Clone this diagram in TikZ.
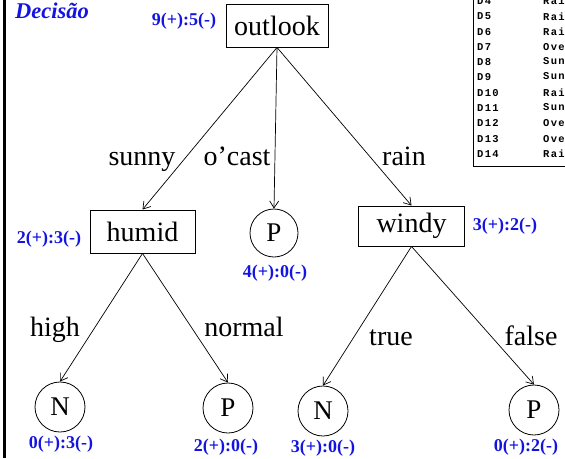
\documentclass[tikz,border=0pt]{standalone}
\usepackage{fontspec}
\setmainfont{Liberation Serif}
\newfontfamily\tabfont[LetterSpace=12]{Liberation Mono}
\usetikzlibrary{arrows.meta}
\definecolor{lblue}{RGB}{20,20,225}
\tikzset{
  treebox/.style={draw, line width=0.9pt, inner sep=0pt, font=\rmfamily\fontsize{28}{30}\selectfont},
  leaf/.style={draw, circle, line width=0.8pt, minimum size=50pt, inner sep=0pt, font=\rmfamily\fontsize{27}{30}\selectfont},
  count/.style={text=lblue, font=\rmfamily\fontsize{18}{20}\selectfont\bfseries, inner sep=0pt},
  edgelbl/.style={font=\rmfamily\fontsize{28}{30}\selectfont, inner sep=0pt, anchor=base},
  branch/.style={line width=0.7pt, -{Straight Barb[length=7pt,width=9pt]}},
  tabtxt/.style={font=\tabfont\bfseries\fontsize{10.5}{12}\selectfont, inner sep=0pt, anchor=west},
  tabline/.style={line width=0.8pt},
}
\begin{document}
\begin{tikzpicture}[x=1pt,y=-1pt]
\useasboundingbox (0,0) rectangle (565,458);
\fill[white] (0,0) rectangle (565,458);
% left border line
\draw[line width=2.5pt] (4.5,0) -- (4.5,458);
% title
\node[text=lblue, font=\rmfamily\fontsize{22.5}{24}\selectfont\bfseries\itshape, inner sep=0pt] (title) at (52,10.5) {Decisão};

% table (clipped)
\begin{scope}
\clip (0,0) rectangle (565,458);
\draw[tabline] (473,0) -- (473,166) -- (570,166);
\foreach \d/\w [count=\i from 0] in {D4/Rain,D5/Rain,D6/Rain,D7/Overcast,D8/Sunny,D9/Sunny,D10/Rain,D11/Sunny,D12/Overcast,D13/Overcast,D14/Rain}{
  \node[tabtxt] (td\i) at (477,1+15.3*\i) {\d};
  \node[tabtxt] (tw\i) at (543,1+15.3*\i) {\w};
}
\end{scope}

% tree nodes
\node[treebox, minimum width=102pt, minimum height=43pt] (outlook) at (277,25.5) {outlook};
\node[treebox, minimum width=105pt, minimum height=43pt] (humid) at (142.5,231.5) {humid};
\node[treebox, minimum width=106pt, minimum height=40pt] (windy) at (411.5,226) {windy};
\node[leaf, minimum size=48pt] (p0) at (274,233) {P};
\node[leaf] (n1) at (60,407) {N};
\node[leaf] (p1) at (228,408) {P};
\node[leaf] (n2) at (323,411) {N};
\node[leaf] (p2) at (534,410) {P};

% counts
\node[count] (c0) at (184,21) {9(+):5(-)};
\node[count] (c1) at (49,239) {2(+):3(-)};
\node[count] (c2) at (275,273) {4(+):0(-)};
\node[count] (c3) at (505,226) {3(+):2(-)};
\node[count] (c4) at (61,444) {0(+):3(-)};
\node[count] (c5) at (226,447) {2(+):0(-)};
\node[count] (c6) at (323,448) {3(+):0(-)};
\node[count] (c7) at (526,447) {0(+):2(-)};

% branches
\draw[branch] (outlook.south) -- (humid.north);
\draw[branch] (outlook.south) -- (p0.north);
\draw[branch] (outlook.south) -- (windy.north);
\draw[branch] (humid.south) -- (n1.north);
\draw[branch] (humid.south) -- (p1.north);
\draw[branch] (windy.south) -- (n2.north);
\draw[branch] (windy.south) -- (p2.north);

% edge labels
\node[edgelbl] (lsunny) at (142,165) {sunny};
\node[edgelbl] (lcast) at (237,165) {o’cast};
\node[edgelbl] (lrain) at (404,165) {rain};
\node[edgelbl] (lhigh) at (55,336) {high};
\node[edgelbl] (lnormal) at (244,336) {normal};
\node[edgelbl] (ltrue) at (391,345) {true};
\node[edgelbl] (lfalse) at (531,345) {false};
\end{tikzpicture}
\end{document}
